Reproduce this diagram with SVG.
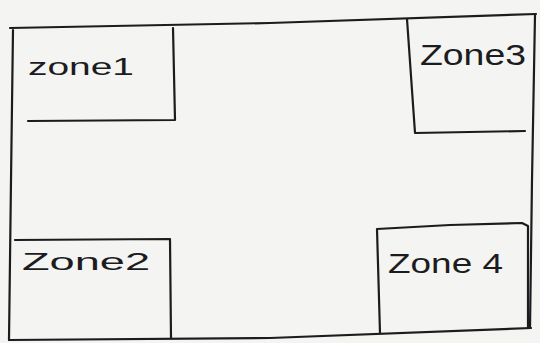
<svg xmlns="http://www.w3.org/2000/svg" width="540" height="343" viewBox="0 0 540 343">
<style>
.ln{fill:none;stroke:#1c1c1e;stroke-width:2.2;stroke-linecap:round;stroke-linejoin:round}
.lb{font-family:"Liberation Sans","DejaVu Sans",sans-serif;fill:#1c1c1e;font-weight:normal}
</style>
<rect width="540" height="343" fill="#f4f4f2"/>
<g id="frame">
<path class="ln" d="M10,28 Q140,26 270,23 Q400,19 536,14"/>
<path class="ln" d="M13,30 L11,180 L9,340"/>
<path class="ln" d="M9,340 L270,338 L531,328"/>
<path class="ln" d="M535,15 L532,180 L530,328"/>
</g>
<g id="zone1">
<path class="ln" d="M173,28 L175,120 L28,121"/>
<text class="lb" x="28" y="75" font-size="24" textLength="106" lengthAdjust="spacingAndGlyphs">zone1</text>
</g>
<g id="zone3">
<path class="ln" d="M407,19 L415,133 L525,131"/>
<text class="lb" x="420" y="65" font-size="29" textLength="106" lengthAdjust="spacingAndGlyphs">Zone3</text>
</g>
<g id="zone2">
<path class="ln" d="M15,240 L170,239 L171,338"/>
<text class="lb" x="22" y="270" font-size="24" textLength="128" lengthAdjust="spacingAndGlyphs">Zone2</text>
</g>
<g id="zone4">
<path class="ln" d="M380,333 L377,229 L450,225 L522,223 L528,226 L528,328"/>
<text class="lb" x="388" y="273" font-size="27" textLength="115" lengthAdjust="spacingAndGlyphs">Zone 4</text>
</g>
</svg>
